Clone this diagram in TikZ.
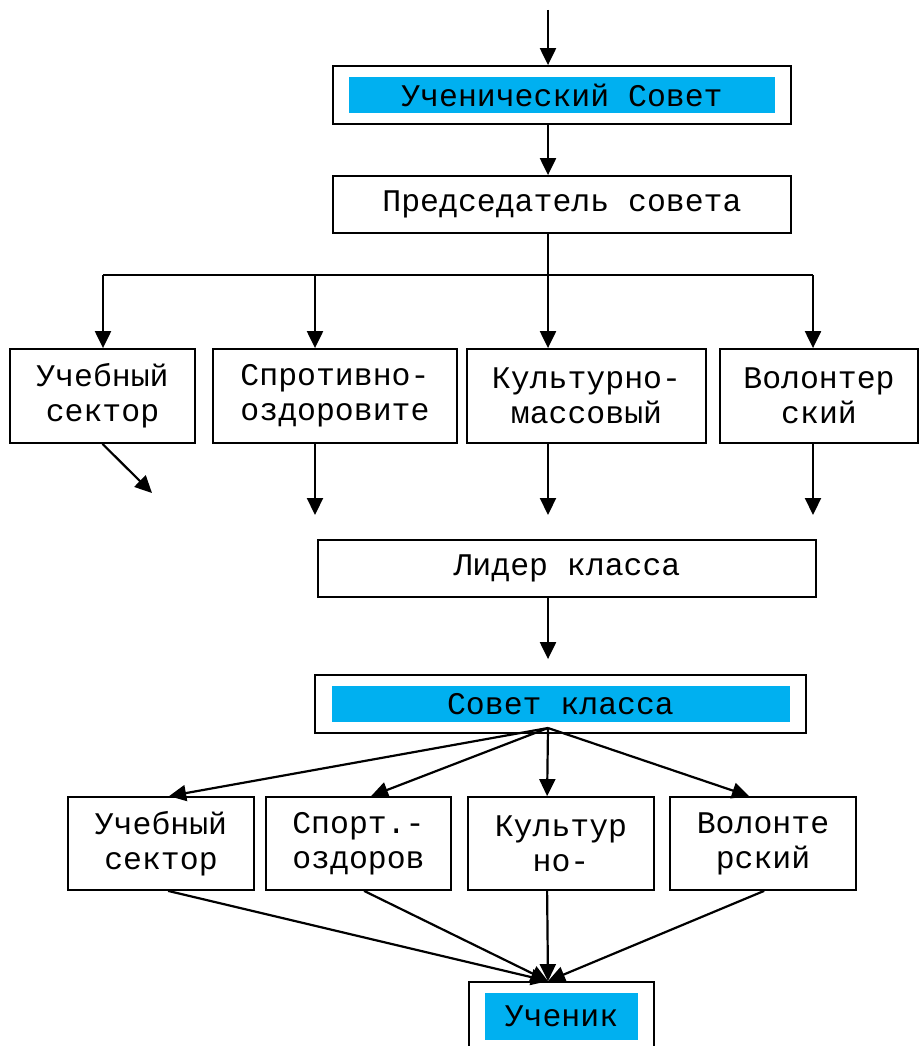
\documentclass[tikz,border=0pt]{standalone}
\usepackage{fontspec}
\setmainfont{Liberation Mono}
\usetikzlibrary{arrows.meta,calc}
\definecolor{SovetBlue}{RGB}{0,176,240}

\tikzset{
    box/.style={draw, line width=1.8pt, align=center, inner sep=0pt},
    hilite/.style={fill=SovetBlue, inner sep=0pt},
    arr/.style={line width=2.2pt, -{Triangle[length=17pt,width=16pt]}},
    link/.style={line width=2.2pt},
}

\begin{document}
\begin{tikzpicture}[x=1pt,y=-1pt,font=\fontsize{31.5}{35}\selectfont]

    \useasboundingbox (0,0) rectangle (919,1046);
    \coordinate (axis) at (548,0);
    \coordinate (top) at (548,10);

    \node[box, minimum width=458, minimum height=58] (uc) at (562,95) {};
    \node[hilite, minimum width=426, minimum height=36] (ucl) at (uc) {Ученический Совет};
    \node[box, minimum width=458, minimum height=57] (pr) at (562,204.5) {Председатель совета};

    \node[box, minimum width=185, minimum height=94] (s1) at (102.5,396) {Учебный\\сектор};
    \node[box, minimum width=244, minimum height=94] (s2) at (335,396) {Спротивно-\\оздоровите};
    \node[box, minimum width=239, minimum height=94] (s3) at (586.5,396) {Культурно-\\массовый};
    \node[box, minimum width=198, minimum height=94] (s4) at (819,396) {Волонтер\\ский};

    \node[box, minimum width=498, minimum height=57] (ld) at (567,568.5) {Лидер класса};
    \node[box, minimum width=491, minimum height=58] (sk) at (560.5,704) {};
    \node[hilite, minimum width=458, minimum height=36] (skl) at (sk) {Совет класса};

    \node[box, minimum width=186, minimum height=93] (c1) at (161,843.5) {Учебный\\сектор};
    \node[box, minimum width=185, minimum height=93] (c2) at (358.5,843.5) {Спорт.-\\оздоров};
    \node[box, minimum width=186, minimum height=93] (c3) at (561,843.5) {Культур\\но-};
    \node[box, minimum width=186, minimum height=93] (c4) at (763,843.5) {Волонте\\рский};

    \node[box, minimum width=185, minimum height=69] (un) at (561.5,1016.5) {};
    \node[hilite, minimum width=153, minimum height=47] (unl) at (un) {Ученик};

    \draw[arr] (top) -- (uc.north -| axis);
    \draw[arr] (uc.south -| axis) -- (pr.north -| axis);

    \foreach \k/\x in {1/103,2/315,3/548,4/813}{%
        \coordinate (b\k) at (\x,275);
        \coordinate (d\k) at (\x,515);
    }
    \draw[link] (pr.south -| axis) -- (b3);
    \draw[link] (b1) -- (b4);
    \foreach \k in {1,...,4}
        \draw[arr] (b\k) -- (b\k |- s\k.north);

    \coordinate (d1) at (152,493);
    \draw[arr] (s1.south) -- (d1);
    \foreach \k in {2,3,4}
        \draw[arr] (s\k.south -| b\k) -- (d\k);

    \draw[arr, shorten >=15pt] (ld.south -| axis) -- (sk.north -| axis);

    \coordinate (fan) at (548,728);
    \foreach \k/\dx in {1/102,2/106,3/80,4/80}
        \draw[arr] (fan) -- ($(c\k.north west)+(\dx,0)$);
    \foreach \k/\dx in {1/101,2/99,3/80,4/95}
        \draw[arr] ($(c\k.south west)+(\dx,0)$) -- (un.north -| axis);

\end{tikzpicture}
\end{document}
